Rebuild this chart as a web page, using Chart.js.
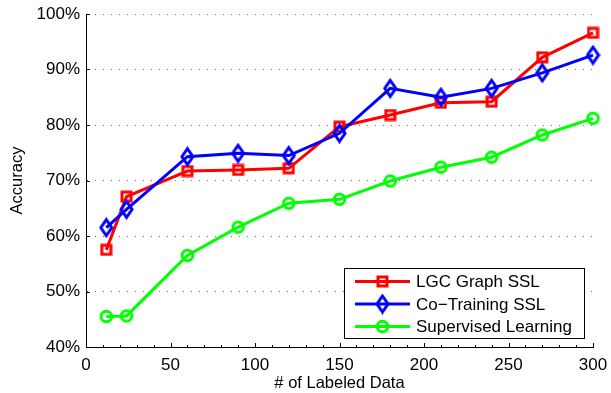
<!DOCTYPE html>
<html>
<head>
<meta charset="utf-8">
<script src="https://cdn.jsdelivr.net/npm/chart.js@4/dist/chart.umd.min.js"></script>
<style>
  html, body { margin: 0; padding: 0; background: #fff; }
  #wrap { width: 611px; height: 393px; }
</style>
</head>
<body>
<div id="wrap"><canvas id="accChart" width="611" height="393"></canvas></div>
<script>
  // x positions (# of labeled data)
  const labeledData = [12, 24, 60, 90, 120, 150, 180, 210, 240, 270, 300];
  const lgcGraph = [57.5, 67.1, 71.7, 71.9, 72.2, 79.7, 81.8, 84.0, 84.2, 92.2, 96.6];
  const coTraining = [61.5, 64.8, 74.3, 74.9, 74.5, 78.5, 86.6, 85.0, 86.6, 89.4, 92.6];
  const supervised = [45.5, 45.6, 56.5, 61.6, 65.9, 66.6, 69.9, 72.4, 74.2, 78.2, 81.2];
  const seriesNames = ['LGC Graph SSL', 'Co\u2212Training SSL', 'Supervised Learning'];
  const xTicks = [0, 50, 100, 150, 200, 250, 300];
  const yTicks = [40, 50, 60, 70, 80, 90, 100];

  const FONT = '"Liberation Sans", Arial, Helvetica, sans-serif';

  // marker images, Matlab style (hollow, thick edge)
  function makeMarker(shape, color) {
    const c = document.createElement('canvas');
    const g = c.getContext('2d');
    if (shape === 'square') {
      c.width = 13; c.height = 13;
      g.strokeStyle = color; g.lineWidth = 3;
      g.strokeRect(2, 2, 9, 9);
    } else if (shape === 'diamond') {
      c.width = 15; c.height = 21;
      g.strokeStyle = color; g.lineWidth = 3;
      g.beginPath();
      g.moveTo(7.5, 2.5); g.lineTo(13, 10.5); g.lineTo(7.5, 18.5); g.lineTo(2, 10.5);
      g.closePath(); g.stroke();
    } else {
      c.width = 15; c.height = 15;
      g.strokeStyle = color; g.lineWidth = 3;
      g.beginPath(); g.arc(7.5, 7.5, 5.3, 0, Math.PI * 2); g.stroke();
    }
    return c;
  }

  function toPoints(vals) {
    return vals.map((v, i) => ({ x: labeledData[i], y: v }));
  }

  const series = [
    { name: seriesNames[0], vals: lgcGraph, color: '#ff0000', shape: 'square', order: 3 },
    { name: seriesNames[1], vals: coTraining, color: '#0000ff', shape: 'diamond', order: 2 },
    { name: seriesNames[2], vals: supervised, color: '#00ff00', shape: 'circle', order: 1 },
  ];

  const datasets = series.map((s) => {
    const marker = makeMarker(s.shape, s.color);
    return {
      label: s.name,
      data: toPoints(s.vals),
      borderColor: s.color,
      backgroundColor: s.color,
      borderWidth: 3,
      tension: 0,
      fill: false,
      clip: false,
      pointStyle: marker,
      pointRadius: 7,
      pointHoverRadius: 7,
      order: s.order,
      _marker: marker,
    };
  });

  // inward major ticks + x minor ticks
  const axisTicks = {
    id: 'axisTicks',
    afterDraw(chart) {
      const { ctx, chartArea: a } = chart;
      const xs = chart.scales.x, ys = chart.scales.y;
      ctx.save();
      ctx.strokeStyle = '#000';
      ctx.lineWidth = 1;
      ctx.beginPath();
      for (let v = xs.min; v <= xs.max; v += 10) {
        const px = Math.round(xs.getPixelForValue(v)) + 0.5;
        const len = xTicks.includes(v) ? 4 : 2;
        ctx.moveTo(px, a.bottom);
        ctx.lineTo(px, a.bottom - len);
      }
      yTicks.forEach((v) => {
        const py = Math.round(ys.getPixelForValue(v)) + 0.5;
        ctx.moveTo(a.left, py);
        ctx.lineTo(a.left + 4, py);
      });
      ctx.stroke();
      ctx.restore();
    },
  };

  // Matlab-like legend box in the lower right
  const boxLegend = {
    id: 'boxLegend',
    afterDraw(chart) {
      const ctx = chart.ctx;
      const bx = 344.5, by = 268.5, bw = 240, bh = 70;
      ctx.save();
      ctx.fillStyle = '#fff';
      ctx.fillRect(bx, by, bw, bh);
      ctx.strokeStyle = '#000';
      ctx.lineWidth = 1;
      ctx.strokeRect(bx, by, bw, bh);
      ctx.font = '17px ' + FONT;
      ctx.textBaseline = 'middle';
      ctx.fillStyle = '#000';
      chart.data.datasets.forEach((ds, i) => {
        const y = 281.5 + i * 22.5;
        ctx.strokeStyle = ds.borderColor;
        ctx.lineWidth = 3;
        ctx.beginPath();
        ctx.moveTo(355, y);
        ctx.lineTo(410, y);
        ctx.stroke();
        const m = ds._marker;
        ctx.drawImage(m, 382.5 - m.width / 2, y - m.height / 2);
        ctx.fillText(ds.label, 416, y + 1);
      });
      ctx.restore();
    },
  };

  new Chart(document.getElementById('accChart'), {
    type: 'line',
    data: { datasets },
    plugins: [axisTicks, boxLegend],
    options: {
      responsive: false,
      animation: false,
      events: [],
      layout: { padding: { left: 0, right: 18, top: 14, bottom: 0 } },
      plugins: { legend: { display: false }, tooltip: { enabled: false } },
      scales: {
        x: {
          type: 'linear',
          min: 0,
          max: 300,
          afterFit: (s) => { s.height = 46; s.paddingLeft = 0; s.paddingRight = 0; },
          afterBuildTicks: (s) => { s.ticks = xTicks.map((v) => ({ value: v })); },
          ticks: { color: '#000', font: { family: FONT, size: 17 }, padding: 8, maxRotation: 0 },
          grid: { drawOnChartArea: false, drawTicks: false },
          border: { display: true, color: '#000', width: 1 },
          title: {
            display: true,
            text: '# of Labeled Data',
            color: '#000',
            font: { family: FONT, size: 16.5 },
            padding: { top: 0, bottom: 0 },
          },
        },
        y: {
          min: 40,
          max: 100,
          afterFit: (s) => { s.width = 86; s.paddingTop = 0; s.paddingBottom = 0; },
          afterBuildTicks: (s) => { s.ticks = yTicks.map((v) => ({ value: v })); },
          ticks: {
            color: '#000',
            font: { family: FONT, size: 17 },
            padding: 6,
            callback: (v) => v + '%',
          },
          grid: { color: 'rgba(0,0,0,0.55)', lineWidth: 1, drawTicks: false },
          border: { display: true, color: '#000', width: 1, dash: [1, 7] },
          title: {
            display: true,
            text: 'Accuracy',
            color: '#000',
            font: { family: FONT, size: 16.5 },
            padding: { top: 8, bottom: 0 },
          },
        },
      },
    },
  });
</script>
</body>
</html>
